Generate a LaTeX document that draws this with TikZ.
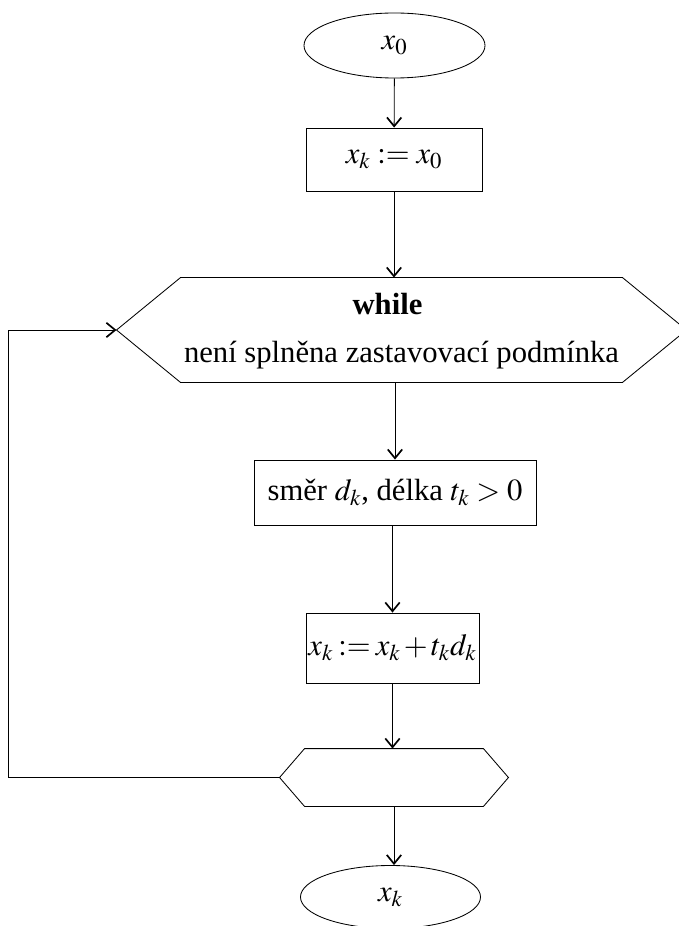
\documentclass[tikz,border=0pt]{standalone}
\usepackage{mathptmx}
\usepackage{fontspec}
\setmainfont{Liberation Serif}
\usetikzlibrary{shapes.geometric,arrows.meta,calc}

\begin{document}
\begin{tikzpicture}[x=0.025cm,y=-0.025cm,
    font=\fontsize{21.8}{26}\selectfont,
    line width=0.6pt,
    >={Straight Barb[length=2.2mm,width=3.6mm,line width=1.2pt]},
    term/.style={draw,ellipse,inner sep=0pt},
    stepbox/.style={draw,rectangle,inner sep=0pt},
    hexbody/.style={rectangle,inner sep=0pt}]
  \useasboundingbox (0,0) rectangle (678,926);
  \node[term,minimum width=4.525cm,minimum height=1.625cm] (start) at (394.5,45.5) {$x_0$};
  \node[stepbox,minimum width=4.4cm,minimum height=1.575cm] (init) at (394,159.5) {$x_k := x_0$};
  \node[hexbody,minimum width=11.025cm,minimum height=2.6cm] (while) at (401.5,330) {};
  \node[align=center] (cond) at ($(while.center)+(0,1)$)
    {\textbf{while}\hspace*{0.7cm}\\[8pt] není splněna zastavovací podmínka};
  \node[stepbox,minimum width=7.05cm,minimum height=1.625cm] (dir) at (395,492.5) {směr $d_k$, délka $t_k > 0$};
  \node[stepbox,minimum width=4.325cm,minimum height=1.75cm] (upd) at (392.5,648)
    {\medmuskip=2mu \thickmuskip=3mu $x_k := x_k + t_k d_k$};
  \node[hexbody,minimum width=4.45cm,minimum height=1.425cm] (done) at (394,777.5) {};
  \node[term,minimum width=4.5cm,minimum height=1.575cm] (end) at (390.5,897) {$x_k$};
  \coordinate (whilel) at ($(while.west)+(-64,0)$);
  \coordinate (whiler) at ($(while.east)+(64,0)$);
  \coordinate (donel) at ($(done.west)+(-25,0)$);
  \coordinate (doner) at ($(done.east)+(25,0)$);
  \draw (while.north west) -- (while.north east) -- (whiler) -- (while.south east)
    -- (while.south west) -- (whilel) -- cycle;
  \draw (done.north west) -- (done.north east) -- (doner) -- (done.south east)
    -- (done.south west) -- (donel) -- cycle;
  \begin{scope}[->]
    \draw (start) -- (init);
    \draw (init) -- (init |- while.north);
    \draw (while.south -| dir) -- (dir);
    \draw (dir.south -| upd) -- (upd);
    \draw (upd) -- (upd |- done.north);
    \draw (done) -- (done |- end.north);
    \draw (donel) -- ++(-271,0) |- (whilel);
  \end{scope}
\end{tikzpicture}
\end{document}
